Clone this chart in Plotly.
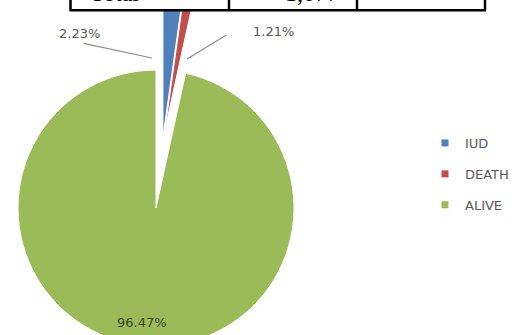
import plotly.graph_objects as go

# ---- data ----
categories = ["IUD", "DEATH", "ALIVE"]
percent_values = [2.23, 1.21, 96.47]
slice_colors = ["#4F81BD", "#C0504D", "#9BBB59"]
table_cells = ["Total", "1,077"]

W, H = 514, 350   # paper is a little taller than the 335px window; bottom of pie runs off-screen
CLEAR = "rgba(0,0,0,0)"


def px(x):
    return x / W


def py(y):
    return 1 - y / H


fig = go.Figure()

# main (green) body of the pie
fig.add_trace(go.Pie(
    labels=categories, values=percent_values, sort=False,
    direction="clockwise", rotation=0,
    marker=dict(colors=[CLEAR, CLEAR, slice_colors[2]],
                line=dict(color=[CLEAR, CLEAR, "white"], width=1)),
    textinfo="none", hoverinfo="skip", showlegend=False,
    domain=dict(x=[px(18), px(294)], y=[py(346), py(70)]),
))

# exploded small slices
fig.add_trace(go.Pie(
    labels=categories, values=percent_values, sort=False,
    direction="clockwise", rotation=0, pull=[0.046, 0.1, 0],
    marker=dict(colors=[slice_colors[0], slice_colors[1], CLEAR],
                line=dict(color=["white", "white", CLEAR], width=1)),
    textinfo="none", hoverinfo="skip", showlegend=False,
    domain=dict(x=[px(19.5), px(305.5)], y=[py(286), py(0)]),
))

# legend entries
for name, col in zip(categories, slice_colors):
    fig.add_trace(go.Scatter(
        x=[None], y=[None], mode="markers", name=name, legendgroup=name,
        marker=dict(symbol="square", size=7, color=col), hoverinfo="skip",
    ))

label_font = dict(family="DejaVu Sans", size=13, color="#595959")
lead = dict(xref="paper", yref="paper", text="", showarrow=True, arrowhead=0,
            arrowwidth=1.2, arrowcolor="#8c8c8c")
annotations = [
    dict(text=f"{percent_values[0]:.2f}%", x=px(79), y=py(33), xref="paper", yref="paper",
         xanchor="center", yanchor="middle", showarrow=False, font=label_font),
    dict(text=f"{percent_values[1]:.2f}%", x=px(273), y=py(32), xref="paper", yref="paper",
         xanchor="center", yanchor="middle", showarrow=False, font=label_font),
    dict(x=px(152), y=py(58), ax=82 - 152, ay=43 - 58, **lead),
    dict(x=px(187), y=py(59), ax=228 - 187, ay=34 - 59, **lead),
    dict(text=f"{percent_values[2]:.2f}%", x=px(142), y=py(322), xref="paper", yref="paper",
         xanchor="center", yanchor="middle", showarrow=False,
         font=dict(family="DejaVu Sans", size=13, color="#3b4524")),
    dict(text=table_cells[0], x=px(88), y=py(-7.5), xref="paper", yref="paper",
         xanchor="left", yanchor="middle", showarrow=False,
         font=dict(family="Liberation Serif", size=24, color="black")),
    dict(text=table_cells[1], x=px(283), y=py(-7.5), xref="paper", yref="paper",
         xanchor="left", yanchor="middle", showarrow=False,
         font=dict(family="Liberation Serif", size=24, color="black")),
]

shapes = [
    dict(type="rect", xref="paper", yref="paper", x0=px(66), x1=px(490), y0=py(11), y1=py(-5),
         fillcolor="white", line=dict(width=0), layer="above"),
    dict(type="line", xref="paper", yref="paper", x0=px(69.5), x1=px(486), y0=py(10.2), y1=py(10.2),
         line=dict(color="black", width=2.5), layer="above"),
]
for xv in [70.5, 229, 357, 485]:
    shapes.append(dict(type="line", xref="paper", yref="paper", x0=px(xv), x1=px(xv),
                       y0=py(10.2), y1=py(-3), line=dict(color="black", width=2.5), layer="above"))

fig.update_layout(
    width=W, height=H,
    margin=dict(l=0, r=0, t=0, b=0),
    paper_bgcolor="white", plot_bgcolor="white",
    xaxis=dict(visible=False), yaxis=dict(visible=False),
    showlegend=True,
    legend=dict(x=px(425), y=py(128), xanchor="left", yanchor="top",
                font=dict(family="DejaVu Sans", size=13, color="#595959"),
                bgcolor="rgba(0,0,0,0)", tracegroupgap=11),
    annotations=annotations, shapes=shapes,
)

fig.write_html("out.html", config={"displayModeBar": False},
               post_script="document.body.style.margin='0';")
